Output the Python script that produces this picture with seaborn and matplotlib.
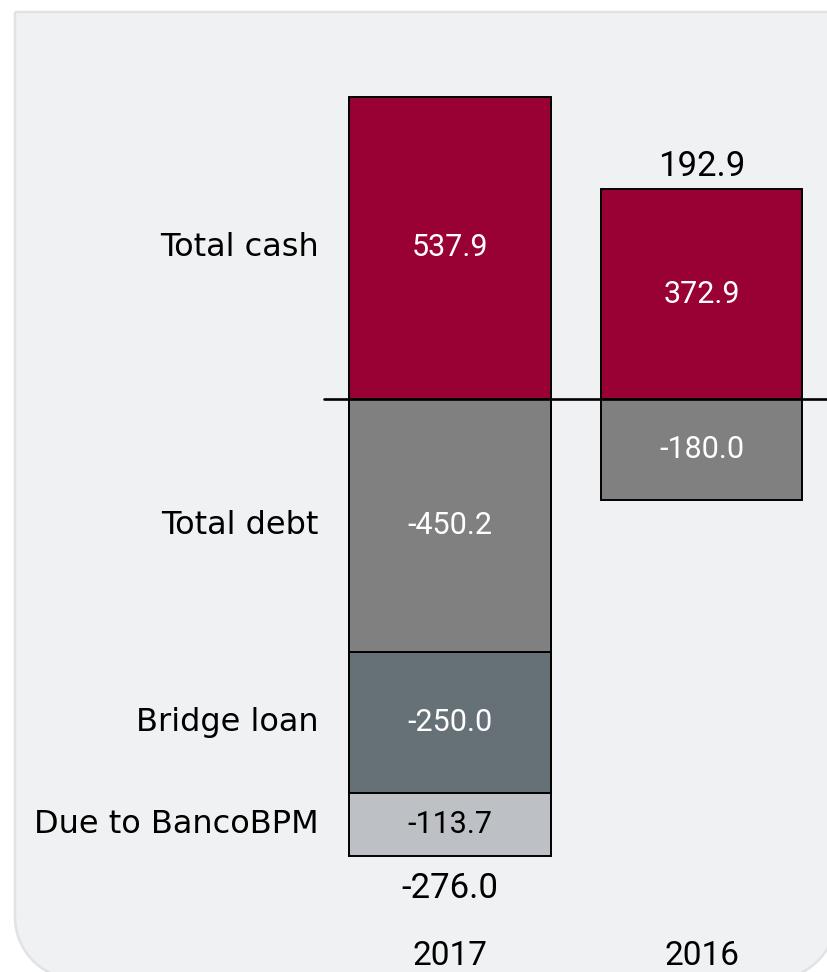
import numpy as np
import pandas as pd
import matplotlib
matplotlib.use("Agg")
import matplotlib.pyplot as plt
from matplotlib.path import Path
from matplotlib.patches import PathPatch
import seaborn as sns

# Net financial position components (EUR m)
years = ["2017", "2016"]
total_cash = [537.9, 372.9]
total_debt = [-450.2, -180.0]
bridge_loan = [-250.0, 0.0]
due_to_bpm = [-113.7, 0.0]
row_labels = ["Total cash", "Total debt", "Bridge loan", "Due to BancoBPM"]

seg_colors = ["#990033", "#808080", "#667177", "#bdc1c5"]
seg_text = ["white", "white", "white", "black"]

sns.set_style("white")

segments = [total_cash, total_debt, bridge_loan, due_to_bpm]

# Bottom/top of every stacked segment: cash goes up from zero,
# debt items stack downward below zero.
rows = []
for i, yr in enumerate(years):
    neg_base = 0.0
    for k, seg in enumerate(segments):
        v = seg[i]
        if v >= 0:
            lo, hi = 0.0, v
        else:
            lo, hi = neg_base + v, neg_base
            neg_base += v
        rows.append(dict(year=yr, seg=k, value=v, lo=lo, hi=hi,
                         outer=lo if v < 0 else hi))
df = pd.DataFrame(rows)
net = [sum(s[i] for s in segments) for i in range(len(years))]

fig = plt.figure(figsize=(8.28, 9.72), dpi=100)

# Card behind the chart: square top, rounded bottom corners
bg = fig.add_axes([0, 0, 1, 1])
bg.set_xlim(0, 828)
bg.set_ylim(972, 0)
bg.axis("off")
x0, x1, y0, y1, r = 15, 836, 12, 979, 62
t = np.linspace(0, np.pi / 2, 40)
verts = [(x0, y0), (x1, y0), (x1, y1 - r)]
verts += [(x1 - r + r * np.cos(a), y1 - r + r * np.sin(a)) for a in t]
verts += [(x0 + r - r * np.sin(a), y1 - r + r * np.cos(a)) for a in t]
verts += [(x0, y0)]
bg.add_patch(PathPatch(Path(verts), facecolor="#f0f1f3",
                       edgecolor="#e1e2e5", lw=1.8, joinstyle="miter"))

ax = fig.add_axes([0, 0, 1, 1])
ax.patch.set_alpha(0)

# Overlay bars from the outermost segment inward so each band shows
draw_order = [3, 2, 1, 0]
for k in draw_order:
    sub = df[(df.seg == k) & (df.value != 0)]
    sns.barplot(data=sub, x="year", y="outer", order=years, color=seg_colors[k],
                saturation=1, width=0.8, edgecolor="black", linewidth=1.4,
                errorbar=None, ax=ax, zorder=2)

# Zero line
ax.axhline(0, xmin=324 / 828, xmax=1, color="black", lw=1.9, zorder=5)

# Values inside the segments
for _, rw in df[df.value != 0].iterrows():
    xi = years.index(rw.year)
    ax.text(xi, (rw.lo + rw.hi) / 2, f"{rw.value:.1f}", ha="center", va="center",
            color=seg_text[int(rw.seg)], fontsize=22, family="Roboto", zorder=6)

# Row captions next to the first column
first = df[df.year == years[0]]
for _, rw in first.iterrows():
    ax.annotate(row_labels[int(rw.seg)], xy=(-0.4, (rw.lo + rw.hi) / 2),
                xytext=(-22, 0), textcoords="offset points", ha="right", va="center",
                fontsize=23, family="DejaVu Sans", color="black")

# Net totals beyond the end of each stack
for i, yr in enumerate(years):
    d = df[df.year == yr]
    if net[i] >= 0:
        ax.annotate(f"{net[i]:.1f}", xy=(i, d.hi.max()), xytext=(0, 10),
                    textcoords="offset points", ha="center", va="baseline",
                    fontsize=25, family="Roboto", color="black")
    else:
        ax.annotate(f"{net[i]:.1f}", xy=(i, d.lo.min()), xytext=(0, -30),
                    textcoords="offset points", ha="center", va="baseline",
                    fontsize=25, family="Roboto", color="black")

# Year labels along the bottom
for i, yr in enumerate(years):
    ax.text(i, 1 - 965 / 972, yr, transform=ax.get_xaxis_transform(),
            ha="center", va="baseline", fontsize=24, family="Roboto", color="black")

ax.set_xlim(-449.8 / 251.9, (828 - 449.8) / 251.9)
ax.set_ylim(-(972 - 399) / 0.562, 399 / 0.562)
ax.axis("off")

fig.savefig("out.png", dpi=100)
